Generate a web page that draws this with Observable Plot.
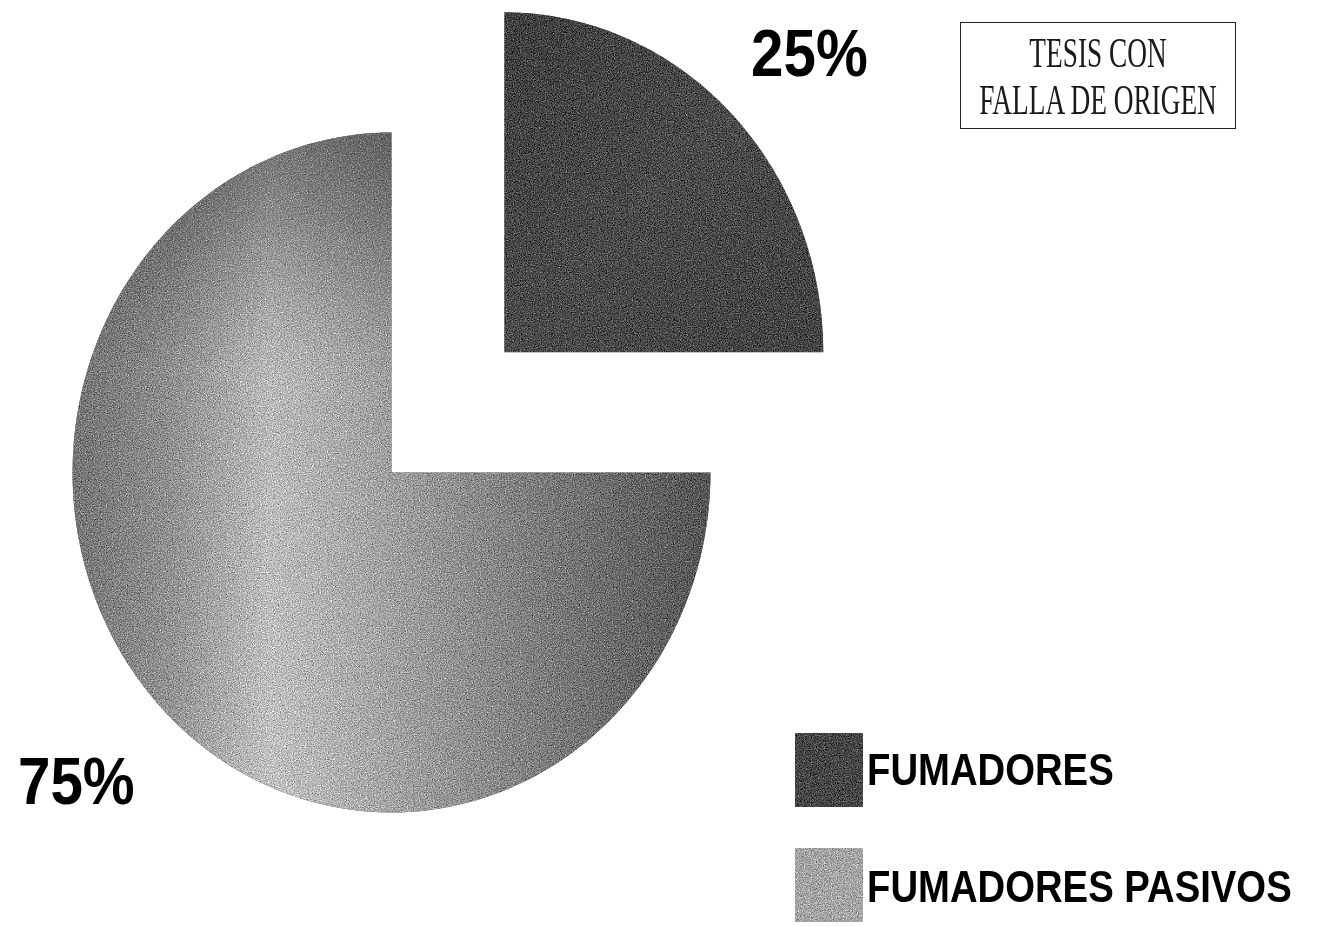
<!DOCTYPE html>
<html>
<head>
<meta charset="utf-8">
<script src="https://cdn.jsdelivr.net/npm/d3@7"></script>
<script src="https://cdn.jsdelivr.net/npm/@observablehq/plot@0.6"></script>
<style>
  html, body { margin: 0; padding: 0; background: #fff; }
  #wrap { position: relative; width: 1330px; height: 926px; overflow: hidden; }
  #wrap svg.plot { position: absolute; left: 0; top: 0; }
  .sw { position: absolute; width: 68px; height: 74px; filter: url(#grain); }
  .lg { position: absolute; font-family: "Liberation Sans", Arial, Helvetica, sans-serif; font-weight: bold;
        font-size: 44px; line-height: 44px; white-space: nowrap; transform: scaleX(0.87); transform-origin: 0 0; color: #000; }
  #stamp { position: absolute; left: 960px; top: 22px; width: 274px; height: 105px; border: 1.5px solid #222; }
  .st { position: absolute; left: 798px; width: 600px; text-align: center; font-family: "Liberation Serif", "DejaVu Serif", serif;
        font-size: 42px; line-height: 47px; white-space: nowrap; color: #1a1a1a; transform: scaleX(0.65); transform-origin: 50% 0; }
</style>
</head>
<body>
<div id="wrap"></div>
<script>
// ---- data ----
const categories = ["FUMADORES", "FUMADORES PASIVOS"];
const values = [25, 75];
const labels = ["25%", "75%"];
const explode = [0.5, 0];
const stampLines = ["TESIS CON", "FALLA DE ORIGEN"];

// ---- layout ----
const W = 1330, H = 926;
const cx = 391, cy = 472, rx = 319, ry = 340;
const labelRx = 1.375, labelRy = 1.265;
const steps = 180;

const total = d3.sum(values);
let acc = 0;
const slices = categories.map((cat, i) => {
  const a0 = acc / total * 2 * Math.PI;
  acc += values[i];
  const a1 = acc / total * 2 * Math.PI;
  const mid = (a0 + a1) / 2;
  return {cat, value: values[i], label: labels[i], a0, a1, mid,
          ox: explode[i] * Math.sin(mid), oy: explode[i] * Math.cos(mid)};
});

function slicePoints(s) {
  const pts = [{x: s.ox, y: s.oy, cat: s.cat}];
  d3.range(steps + 1).forEach(k => {
    const a = s.a0 + (s.a1 - s.a0) * k / steps;
    pts.push({x: s.ox + Math.sin(a), y: s.oy + Math.cos(a), cat: s.cat});
  });
  return pts;
}

const labelData = slices.map(s => ({
  x: s.ox + labelRx * Math.sin(s.mid),
  y: s.oy + labelRy * Math.cos(s.mid),
  text: s.label
}));

const fills = ["url(#gFum)", "url(#gPas)"];

const plot = Plot.plot({
  width: W, height: H, margin: 0,
  x: {domain: [-cx / rx, (W - cx) / rx], axis: null},
  y: {domain: [-(H - cy) / ry, cy / ry], axis: null},
  marks: [
    ...slices.map((s, i) => Plot.line(slicePoints(s), {x: "x", y: "y", curve: "linear-closed", fill: fills[i], stroke: "none"})),
    Plot.line(slicePoints(slices[1]), {x: "x", y: "y", curve: "linear-closed", fill: "url(#gTop)", stroke: "none"}),
    Plot.text(labelData, {x: "x", y: "y", text: "text", dx: -5, dy: 6, fontSize: 67, fontWeight: "bold",
      fontFamily: "Liberation Sans, Arial, Helvetica, sans-serif", fill: "#000"})
  ]
});
plot.classList.add("plot");

const ns = "http://www.w3.org/2000/svg";
const defs = document.createElementNS(ns, "defs");
defs.innerHTML = `
  <linearGradient id="gFum" x1="0" y1="0" x2="1" y2="1">
    <stop offset="0" stop-color="#404040"/>
    <stop offset="0.5" stop-color="#4c4c4c"/>
    <stop offset="1" stop-color="#444"/>
  </linearGradient>
  <linearGradient id="gPas" x1="0" y1="0" x2="1" y2="0">
    <stop offset="0" stop-color="#7a7a7a"/>
    <stop offset="0.15" stop-color="#969696"/>
    <stop offset="0.31" stop-color="#c4c4c4"/>
    <stop offset="0.45" stop-color="#aeaeae"/>
    <stop offset="0.7" stop-color="#868686"/>
    <stop offset="1" stop-color="#585858"/>
  </linearGradient>
  <linearGradient id="gTop" x1="0" y1="0" x2="0" y2="1">
    <stop offset="0" stop-color="#000" stop-opacity="0.42"/>
    <stop offset="0.35" stop-color="#000" stop-opacity="0.06"/>
    <stop offset="1" stop-color="#000" stop-opacity="0"/>
  </linearGradient>
  <filter id="grain" color-interpolation-filters="sRGB">
    <feTurbulence type="fractalNoise" baseFrequency="0.85" numOctaves="2" seed="7" result="noise"/>
    <feColorMatrix in="noise" type="matrix" values="0.33 0.33 0.33 0 0 0.33 0.33 0.33 0 0 0.33 0.33 0.33 0 0 0 0 0 0 1" result="gray"/>
    <feComposite in="SourceGraphic" in2="gray" operator="arithmetic" k1="0" k2="1" k3="1.4" k4="-0.7" result="mix"/>
    <feComposite in="mix" in2="SourceGraphic" operator="in"/>
  </filter>`;
plot.insertBefore(defs, plot.firstChild);

const wrap = document.getElementById("wrap");
wrap.appendChild(plot);

d3.select(plot).selectAll('g[aria-label="line"] path').attr("filter", "url(#grain)");
d3.select(plot).selectAll('g[aria-label="text"] text').each(function() {
  const len = this.getComputedTextLength();
  this.setAttribute("textLength", len * 0.87);
  this.setAttribute("lengthAdjust", "spacingAndGlyphs");
});

// legend
const legendTops = [733, 848];
const legendBase = [785, 902];
const swatchColors = ["#474747", "#a6a6a6"];
categories.forEach((c, i) => {
  const sw = document.createElement("div");
  sw.className = "sw";
  sw.style.left = "795px";
  sw.style.top = legendTops[i] + "px";
  sw.style.background = swatchColors[i];
  wrap.appendChild(sw);
  const t = document.createElement("div");
  t.className = "lg";
  t.style.left = "867px";
  t.style.top = (legendBase[i] - 37) + "px";
  t.textContent = c;
  wrap.appendChild(t);
});

// stamp
const stamp = document.createElement("div");
stamp.id = "stamp";
wrap.appendChild(stamp);
const st = document.createElement("div");
st.className = "st";
st.style.top = "30px";
stampLines.forEach((s, i) => {
  if (i > 0) st.appendChild(document.createElement("br"));
  st.appendChild(document.createTextNode(s));
});
wrap.appendChild(st);
</script>
</body>
</html>
